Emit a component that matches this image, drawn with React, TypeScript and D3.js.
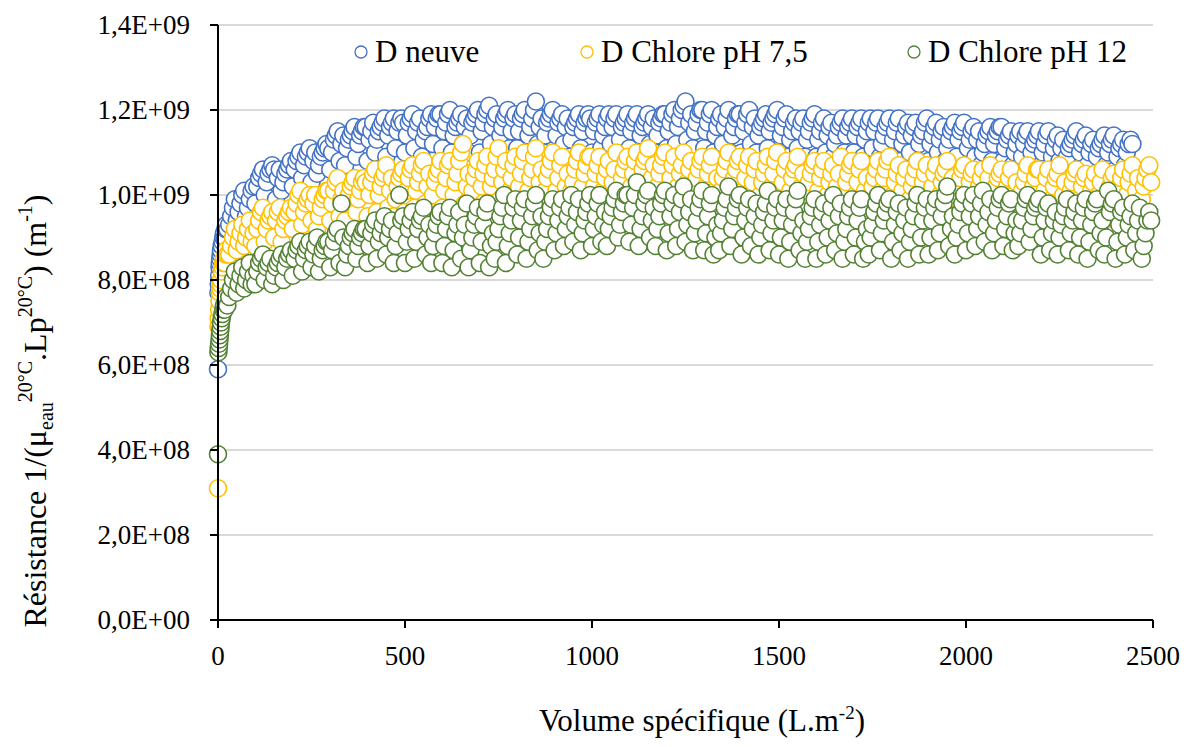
import React from "react";
import * as d3 from "d3";

const volumes = [
  0, 1, 2, 3, 4, 5, 6, 7, 8, 10, 12, 14, 16, 18, 20, 22, 25,
  30, 35, 40, 45, 50, 55, 60, 65, 70, 75, 80, 85, 90, 95,
  100, 105, 110, 115, 120, 125, 130, 135, 140, 145, 150, 155, 160, 165, 170, 175, 180, 185, 190, 195,
  200, 205, 210, 215, 220, 225, 230, 235, 240, 245, 250, 255, 260, 265, 270, 275, 280, 285, 290, 295,
  300, 305, 310, 315, 320, 325, 330, 335, 340, 345, 350, 355, 360, 365, 370, 375, 380, 385, 390, 395,
  400, 405, 410, 415, 420, 425, 430, 435, 440, 445, 450, 455, 460, 465, 470, 475, 480, 485, 490, 495,
  500, 505, 510, 515, 520, 525, 530, 535, 540, 545, 550, 555, 560, 565, 570, 575, 580, 585, 590, 595,
  600, 605, 610, 615, 620, 625, 630, 635, 640, 645, 650, 655, 660, 665, 670, 675, 680, 685, 690, 695,
  700, 705, 710, 715, 720, 725, 730, 735, 740, 745, 750, 755, 760, 765, 770, 775, 780, 785, 790, 795,
  800, 805, 810, 815, 820, 825, 830, 835, 840, 845, 850, 855, 860, 865, 870, 875, 880, 885, 890, 895,
  900, 905, 910, 915, 920, 925, 930, 935, 940, 945, 950, 955, 960, 965, 970, 975, 980, 985, 990, 995,
  1000, 1005, 1010, 1015, 1020, 1025, 1030, 1035, 1040, 1045, 1050, 1055, 1060, 1065, 1070, 1075, 1080, 1085, 1090, 1095,
  1100, 1105, 1110, 1115, 1120, 1125, 1130, 1135, 1140, 1145, 1150, 1155, 1160, 1165, 1170, 1175, 1180, 1185, 1190, 1195,
  1200, 1205, 1210, 1215, 1220, 1225, 1230, 1235, 1240, 1245, 1250, 1255, 1260, 1265, 1270, 1275, 1280, 1285, 1290, 1295,
  1300, 1305, 1310, 1315, 1320, 1325, 1330, 1335, 1340, 1345, 1350, 1355, 1360, 1365, 1370, 1375, 1380, 1385, 1390, 1395,
  1400, 1405, 1410, 1415, 1420, 1425, 1430, 1435, 1440, 1445, 1450, 1455, 1460, 1465, 1470, 1475, 1480, 1485, 1490, 1495,
  1500, 1505, 1510, 1515, 1520, 1525, 1530, 1535, 1540, 1545, 1550, 1555, 1560, 1565, 1570, 1575, 1580, 1585, 1590, 1595,
  1600, 1605, 1610, 1615, 1620, 1625, 1630, 1635, 1640, 1645, 1650, 1655, 1660, 1665, 1670, 1675, 1680, 1685, 1690, 1695,
  1700, 1705, 1710, 1715, 1720, 1725, 1730, 1735, 1740, 1745, 1750, 1755, 1760, 1765, 1770, 1775, 1780, 1785, 1790, 1795,
  1800, 1805, 1810, 1815, 1820, 1825, 1830, 1835, 1840, 1845, 1850, 1855, 1860, 1865, 1870, 1875, 1880, 1885, 1890, 1895,
  1900, 1905, 1910, 1915, 1920, 1925, 1930, 1935, 1940, 1945, 1950, 1955, 1960, 1965, 1970, 1975, 1980, 1985, 1990, 1995,
  2000, 2005, 2010, 2015, 2020, 2025, 2030, 2035, 2040, 2045, 2050, 2055, 2060, 2065, 2070, 2075, 2080, 2085, 2090, 2095,
  2100, 2105, 2110, 2115, 2120, 2125, 2130, 2135, 2140, 2145, 2150, 2155, 2160, 2165, 2170, 2175, 2180, 2185, 2190, 2195,
  2200, 2205, 2210, 2215, 2220, 2225, 2230, 2235, 2240, 2245, 2250, 2255, 2260, 2265, 2270, 2275, 2280, 2285, 2290, 2295,
  2300, 2305, 2310, 2315, 2320, 2325, 2330, 2335, 2340, 2345, 2350, 2355, 2360, 2365, 2370, 2375, 2380, 2385, 2390, 2395,
  2400, 2405, 2410, 2415, 2420, 2425, 2430, 2435, 2440, 2445, 2450, 2455, 2460, 2465, 2470, 2475, 2480, 2485, 2490, 2495,
];

// Resistance values, in units of 1E7 m-1
const dNeuve = [
  59, 77, 79, 81, 83, 84, 85, 86, 87, 88, 89, 90, 91, 90, 92, 93, 92,
  93, 95, 97, 99, 94, 96, 98, 100, 101, 95, 97, 99, 101, 102,
  98, 102, 104, 105, 106, 100, 103, 105, 106, 107, 106, 99, 104, 106, 101, 103, 105, 106, 107, 108,
  102, 106, 108, 109, 110, 104, 107, 109, 110, 111, 103, 108, 110, 105, 107, 109, 110, 111, 112, 111,
  106, 110, 113, 114, 115, 108, 112, 114, 107, 111, 113, 114, 115, 116, 109, 112, 114, 115, 116, 116,
  108, 113, 115, 117, 110, 113, 115, 116, 117, 118, 109, 114, 116, 117, 118, 111, 115, 117, 118, 117,
  110, 114, 117, 118, 119, 111, 115, 117, 118, 109, 113, 115, 116, 118, 119, 112, 116, 118, 119, 119,
  111, 115, 117, 119, 120, 110, 114, 116, 117, 118, 119, 112, 116, 118, 110, 114, 117, 118, 119, 120,
  110, 115, 117, 119, 120, 121, 112, 116, 118, 119, 110, 114, 116, 118, 119, 120, 111, 115, 118, 119,
  111, 115, 118, 119, 120, 110, 114, 116, 118, 120, 122, 112, 116, 118, 110, 114, 117, 118, 119, 120,
  110, 114, 117, 118, 119, 112, 116, 118, 109, 113, 116, 117, 118, 119, 111, 115, 117, 118, 119, 118,
  110, 115, 117, 118, 119, 111, 114, 116, 118, 119, 112, 116, 118, 119, 109, 113, 116, 117, 118, 119,
  111, 115, 117, 118, 119, 110, 114, 116, 117, 118, 119, 112, 116, 118, 110, 114, 117, 118, 119, 119,
  111, 115, 117, 119, 120, 112, 116, 118, 120, 121, 122, 113, 117, 119, 111, 115, 117, 119, 120, 120,
  111, 115, 117, 119, 120, 110, 114, 116, 118, 119, 112, 116, 118, 120, 110, 114, 116, 118, 119, 119,
  110, 115, 117, 119, 120, 112, 116, 118, 110, 114, 116, 117, 118, 119, 111, 115, 117, 118, 119, 120,
  110, 114, 116, 118, 119, 109, 113, 115, 117, 118, 111, 115, 117, 118, 109, 113, 115, 117, 118, 119,
  109, 113, 115, 117, 118, 110, 114, 116, 117, 109, 112, 114, 116, 117, 118, 110, 114, 116, 117, 118,
  110, 114, 116, 117, 118, 109, 113, 115, 117, 118, 111, 115, 117, 118, 109, 112, 114, 116, 117, 118,
  109, 113, 115, 117, 118, 108, 112, 114, 116, 117, 110, 114, 116, 117, 108, 112, 114, 115, 117, 118,
  108, 112, 114, 116, 117, 110, 113, 115, 116, 108, 111, 113, 115, 116, 117, 109, 113, 115, 116, 117,
  107, 111, 113, 115, 116, 109, 113, 115, 107, 110, 112, 114, 115, 116, 108, 112, 114, 115, 116, 116,
  108, 111, 113, 114, 115, 107, 110, 112, 114, 115, 109, 112, 114, 115, 107, 110, 112, 113, 114, 115,
  107, 110, 112, 114, 115, 106, 109, 111, 113, 114, 108, 111, 113, 106, 109, 111, 112, 113, 114, 115,
  106, 110, 112, 113, 114, 107, 110, 112, 113, 105, 109, 111, 112, 113, 114, 107, 110, 112, 113, 114,
  106, 109, 111, 112, 113, 107, 110, 112, 113, 112,
];

const dChlore75 = [
  31, 69, 71, 73, 75, 77, 78, 79, 80, 82, 83, 84, 85, 84, 86, 87, 86,
  86, 88, 90, 92, 87, 89, 91, 93, 88, 90, 92, 94, 89, 91,
  88, 92, 94, 96, 97, 89, 92, 94, 95, 96, 90, 94, 96, 97, 89, 92, 94, 95, 96, 97,
  92, 96, 98, 100, 101, 93, 96, 98, 99, 100, 94, 98, 100, 92, 95, 97, 99, 100, 101, 101,
  94, 98, 101, 103, 104, 95, 99, 101, 94, 98, 100, 102, 103, 104, 96, 99, 101, 103, 104, 103,
  95, 100, 103, 105, 106, 96, 100, 102, 104, 105, 107, 97, 101, 104, 95, 99, 102, 104, 105, 106,
  96, 101, 104, 106, 107, 97, 101, 103, 105, 107, 108, 98, 102, 105, 96, 100, 103, 105, 106, 108,
  97, 101, 104, 107, 108, 96, 100, 103, 105, 108, 110, 112, 98, 102, 105, 97, 101, 104, 106, 108,
  97, 102, 105, 107, 109, 98, 102, 104, 106, 109, 111, 99, 103, 106, 108, 97, 101, 104, 107, 109,
  98, 102, 105, 108, 110, 97, 101, 104, 106, 109, 111, 99, 103, 106, 97, 101, 104, 106, 108, 110,
  97, 101, 104, 107, 109, 98, 102, 105, 97, 101, 103, 106, 108, 110, 99, 102, 105, 107, 109, 109,
  98, 102, 105, 107, 109, 97, 101, 104, 106, 108, 99, 103, 106, 110, 97, 101, 104, 106, 108, 109,
  98, 102, 105, 108, 110, 99, 103, 106, 108, 109, 111, 100, 104, 107, 98, 102, 105, 107, 109, 110,
  97, 101, 104, 107, 109, 98, 102, 105, 107, 110, 99, 103, 106, 108, 97, 101, 104, 106, 108, 109,
  98, 102, 105, 107, 109, 97, 101, 104, 98, 101, 104, 106, 108, 110, 97, 101, 104, 106, 108, 109,
  97, 101, 104, 107, 109, 99, 103, 106, 108, 97, 100, 103, 105, 107, 109, 98, 102, 105, 108, 110,
  96, 100, 103, 106, 108, 97, 101, 104, 106, 107, 109, 98, 102, 105, 96, 100, 103, 105, 107, 108,
  97, 101, 104, 106, 108, 96, 100, 103, 105, 107, 98, 102, 105, 109, 96, 100, 103, 105, 107, 108,
  96, 100, 103, 106, 108, 97, 101, 104, 96, 100, 102, 104, 106, 108, 98, 101, 104, 106, 108, 109,
  96, 100, 103, 105, 107, 97, 101, 104, 106, 95, 99, 102, 104, 106, 108, 97, 100, 103, 105, 107,
  95, 99, 102, 105, 107, 96, 100, 103, 105, 106, 108, 97, 101, 104, 95, 99, 102, 104, 106, 107,
  96, 100, 103, 105, 106, 95, 99, 102, 104, 106, 97, 101, 104, 107, 95, 99, 102, 104, 105, 106,
  95, 99, 102, 104, 106, 96, 100, 103, 95, 98, 101, 103, 105, 107, 96, 99, 102, 104, 106, 106,
  94, 98, 101, 104, 106, 95, 99, 102, 104, 105, 107, 96, 100, 103, 94, 98, 101, 103, 105, 106,
  95, 99, 102, 104, 105, 94, 98, 101, 103, 105, 96, 100, 103, 106, 94, 98, 100, 102, 104, 105,
  95, 99, 102, 104, 106, 96, 100, 103, 105, 107, 97, 101, 104, 95, 99, 102, 104, 106, 107, 103,
];

const dChlore12 = [
  39, 63, 64, 65, 66, 67, 68, 69, 70, 71, 72, 73, 74, 73, 75, 76, 74,
  76, 78, 80, 82, 77, 79, 81, 83, 78, 80, 82, 84, 79, 81,
  79, 82, 84, 85, 86, 80, 83, 84, 85, 79, 81, 83, 84, 85, 86, 80, 83, 85, 86, 87,
  81, 85, 87, 88, 89, 82, 85, 87, 88, 89, 83, 86, 88, 90, 82, 85, 87, 88, 89, 89,
  83, 87, 89, 91, 92, 84, 98, 90, 83, 86, 88, 90, 91, 92, 85, 88, 90, 91, 92, 92,
  84, 88, 91, 93, 94, 85, 89, 91, 93, 95, 86, 90, 92, 94, 84, 88, 91, 100, 94, 95,
  84, 89, 92, 94, 96, 85, 89, 92, 94, 95, 97, 86, 90, 93, 84, 88, 91, 93, 95, 96,
  84, 88, 92, 95, 97, 83, 87, 91, 93, 96, 85, 90, 93, 98, 83, 87, 90, 93, 95, 97,
  84, 89, 93, 96, 98, 83, 88, 91, 85, 89, 92, 95, 97, 100, 84, 88, 91, 94, 97, 99,
  86, 90, 94, 97, 99, 85, 89, 92, 95, 98, 100, 87, 91, 95, 85, 89, 92, 95, 97, 99,
  87, 91, 94, 97, 99, 88, 92, 95, 97, 100, 89, 93, 96, 99, 87, 91, 94, 96, 98, 100,
  88, 92, 95, 98, 100, 89, 93, 96, 88, 92, 95, 97, 99, 101, 90, 93, 96, 98, 100, 100,
  89, 93, 97, 100, 103, 88, 92, 95, 98, 100, 101, 90, 94, 97, 88, 92, 95, 98, 100, 101,
  87, 91, 95, 98, 100, 88, 92, 96, 99, 102, 89, 93, 96, 99, 87, 91, 94, 97, 99, 101,
  87, 91, 95, 98, 100, 86, 90, 93, 87, 91, 94, 97, 99, 102, 88, 92, 95, 97, 99, 100,
  86, 90, 94, 97, 99, 88, 92, 95, 98, 86, 90, 93, 96, 98, 101, 87, 91, 94, 97, 99,
  86, 90, 94, 97, 99, 85, 89, 93, 96, 99, 101, 87, 91, 94, 85, 89, 92, 95, 97, 99,
  85, 89, 93, 96, 98, 86, 90, 94, 97, 100, 87, 91, 95, 98, 85, 89, 92, 95, 97, 99,
  86, 90, 94, 97, 99, 85, 89, 92, 86, 90, 93, 96, 98, 100, 87, 91, 94, 96, 98, 99,
  85, 89, 93, 96, 98, 87, 91, 94, 97, 85, 89, 92, 95, 98, 100, 86, 90, 94, 97, 99,
  86, 90, 94, 97, 99, 87, 91, 95, 98, 100, 102, 88, 92, 95, 86, 90, 93, 96, 98, 100,
  87, 91, 95, 98, 100, 88, 92, 95, 98, 101, 89, 93, 96, 99, 87, 91, 94, 97, 99, 100,
  88, 92, 95, 98, 99, 87, 91, 94, 88, 91, 94, 97, 99, 100, 89, 92, 95, 97, 98, 99,
  86, 90, 94, 97, 98, 87, 91, 94, 96, 86, 90, 93, 95, 97, 99, 87, 91, 94, 96, 98,
  86, 90, 94, 97, 99, 85, 89, 93, 96, 98, 99, 87, 91, 94, 86, 90, 101, 96, 98, 99,
  85, 89, 93, 96, 97, 86, 90, 93, 95, 98, 87, 91, 94, 97, 85, 88, 91, 94, 96, 94,
];

const seriesNames = ["D neuve", "D Chlore pH 7,5", "D Chlore pH 12"];
const seriesColors = ["#4472C4", "#FFC000", "#548235"];
const seriesValues = [dNeuve, dChlore75, dChlore12];

const yTicks = [0, 2e8, 4e8, 6e8, 8e8, 1e9, 1.2e9, 1.4e9];
const yTickLabels = ["0,0E+00", "2,0E+08", "4,0E+08", "6,0E+08", "8,0E+08", "1,0E+09", "1,2E+09", "1,4E+09"];
const xTicks = [0, 500, 1000, 1500, 2000, 2500];

const W = 1187;
const H = 747;
const left = 218;
const right = 1153;
const top = 25;
const bottom = 620;
const FONT = "Liberation Serif";

export default function App() {
  const x = d3.scaleLinear().domain([0, 2500]).range([left, right]);
  const y = d3.scaleLinear().domain([0, 1.4e9]).range([bottom, top]);

  const legendX = [361, 587, 914];

  return (
    <svg width={W} height={H} style={{ position: "absolute", left: 0, top: 0, background: "#fff" }}>
      {yTicks.map((t) => (
        <line key={"g" + t} x1={left} x2={right} y1={y(t)} y2={y(t)} stroke="#d9d9d9" strokeWidth={2} />
      ))}

      {seriesValues.map((vals, si) => (
        <g key={"s" + si}>
          {vals.map((v, i) =>
            v === undefined || volumes[i] === undefined ? null : (
              <circle
                key={i}
                cx={x(volumes[i])}
                cy={y(v * 1e7)}
                r={8.5}
                fill="#fff"
                stroke={seriesColors[si]}
                strokeWidth={1.6}
              />
            )
          )}
        </g>
      ))}

      <line x1={left} x2={left} y1={top} y2={bottom} stroke="#000" strokeWidth={2} />
      <line x1={left} x2={right} y1={bottom} y2={bottom} stroke="#000" strokeWidth={2} />
      {yTicks.map((t, i) => (
        <g key={"yt" + t}>
          <line x1={left - 8} x2={left} y1={y(t)} y2={y(t)} stroke="#000" strokeWidth={2} />
          <text x={190} y={y(t)} dy="0.35em" textAnchor="end" fontSize={27} fill="#000" fontFamily={FONT}>
            {yTickLabels[i]}
          </text>
        </g>
      ))}
      {xTicks.map((t) => (
        <g key={"xt" + t}>
          <line x1={x(t)} x2={x(t)} y1={bottom} y2={bottom + 8} stroke="#000" strokeWidth={2} />
          <text x={x(t)} y={665} textAnchor="middle" fontSize={27} fill="#000" fontFamily={FONT}>
            {t}
          </text>
        </g>
      ))}

      <text x={702} y={731} textAnchor="middle" fontSize={31} fill="#000" fontFamily={FONT}>
        Volume spécifique (L.m<tspan dy={-12} fontSize={19}>-2</tspan>
        <tspan dy={12}>)</tspan>
      </text>
      <text
        transform={`translate(46, 411) rotate(-90)`}
        textAnchor="middle"
        fontSize={32}
        fill="#000"
        fontFamily={FONT}
      >
        Résistance 1/(μ<tspan dy={7} fontSize={20}>eau</tspan>
        <tspan dy={-21} fontSize={20}>20°C</tspan>
        <tspan dy={14}>.Lp</tspan>
        <tspan dy={-14} fontSize={20}>20°C</tspan>
        <tspan dy={14}>) (m</tspan>
        <tspan dy={-14} fontSize={20}>-1</tspan>
        <tspan dy={14}>)</tspan>
      </text>

      {seriesNames.map((n, i) => (
        <g key={"l" + i}>
          <circle cx={legendX[i]} cy={52} r={6} fill="#fff" stroke={seriesColors[i]} strokeWidth={1.3} />
          <text x={legendX[i] + 14} y={62} fontSize={31} fill="#000" fontFamily={FONT}>
            {n}
          </text>
        </g>
      ))}
    </svg>
  );
}
